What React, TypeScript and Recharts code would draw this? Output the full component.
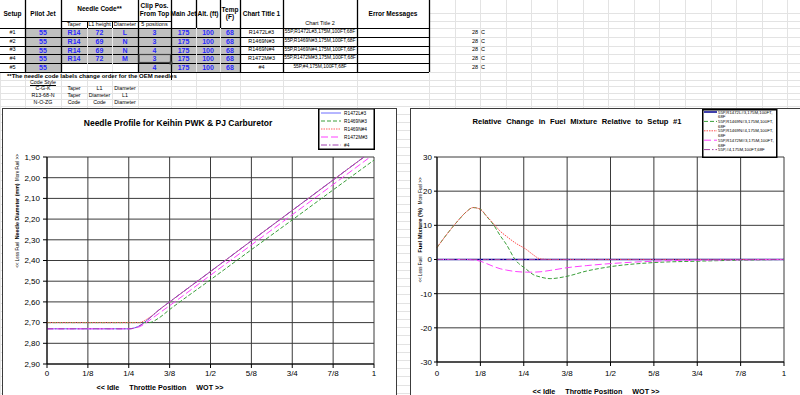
import React from "react";
import { LineChart, Line, XAxis, YAxis, CartesianGrid, Legend } from "recharts";

const FONT = '"Liberation Sans", Arial, Helvetica, sans-serif';

// ---- setup table ----
const setupLabels = ["#1", "#2", "#3", "#4", "#5"];
const pilotJets = ["55", "55", "55", "55", "55"];
const needleTapers = ["R14", "R14", "R14", "R14", ""];
const needleL1 = ["72", "69", "69", "72", ""];
const needleDiameters = ["L", "N", "N", "M", ""];
const clipPositions = ["3", "3", "4", "3", "4"];
const mainJets = ["175", "175", "175", "175", "175"];
const altitudes = ["100", "100", "100", "100", "100"];
const temperaturesF = ["68", "68", "68", "68", "68"];
const chartTitle1 = ["R1472L#3", "R1469N#3", "R1469N#4", "R1472M#3", "#4"];
const chartTitle2 = [
  "55P,R1472L#3,175M,100FT,68F",
  "55P,R1469N#3,175M,100FT,68F",
  "55P,R1469N#4,175M,100FT,68F",
  "55P,R1472M#3,175M,100FT,68F",
  "55P,#4,175M,100FT,68F",
];
const temperaturesC = ["28", "28", "28", "28", "28"];

const codeStyles = ["C-G-K", "R13-68-N", "N-O-ZG"];
const codeStyleFirst = ["Taper", "Taper", "Code"];
const codeStyleSecond = ["L1", "Diameter", "Code"];
const codeStyleThird = ["Diameter", "L1", "Diameter"];

// ---- needle profile chart ----
const throttleTicks = [0, 0.125, 0.25, 0.375, 0.5, 0.625, 0.75, 0.875, 1];
const throttleLabels = ["0", "1/8", "1/4", "3/8", "1/2", "5/8", "3/4", "7/8", "1"];
const diameterTicks = [1.9, 2.0, 2.1, 2.2, 2.3, 2.4, 2.5, 2.6, 2.7, 2.8, 2.9];

const needleThrottle = [0, 0.125, 0.25, 0.28, 0.3125, 0.34, 0.375, 0.5, 0.625, 0.75, 0.875, 1];
const diaR1472L3 = [2.73, 2.73, 2.73, 2.718, 2.68, 2.642, 2.6, 2.453, 2.305, 2.158, 2.011, 1.864];
const diaR1469N3 = [2.7, 2.7, 2.7, 2.7, 2.7, 2.68, 2.637, 2.493, 2.348, 2.204, 2.059, 1.915];
const diaR1469N4 = [2.7, 2.7, 2.7, 2.7, 2.676, 2.642, 2.6, 2.453, 2.305, 2.158, 2.011, 1.864];
const diaR1472M3 = [2.73, 2.73, 2.73, 2.722, 2.69, 2.658, 2.618, 2.471, 2.325, 2.179, 2.033, 1.886];
const diaNo4 = [2.73, 2.73, 2.73, 2.718, 2.68, 2.642, 2.6, 2.453, 2.305, 2.158, 2.011, 1.864];

// ---- fuel mixture chart ----
const mixtureTicks = [30, 20, 10, 0, -10, -20, -30];
const mixThrottle = [
  0, 0.03, 0.06, 0.085, 0.104, 0.125, 0.143, 0.162, 0.182, 0.2, 0.225, 0.258, 0.277, 0.297,
  0.326, 0.375, 0.43, 0.5, 0.625, 0.75, 0.875, 1,
];
const mixR1472L3 = [0, 0, 0, 0, 0, 0, 0, 0, 0, 0, 0, 0, 0, 0, 0, 0, 0, 0, 0, 0, 0, 0];
const mixR1469N3 = [
  3.5, 7.6, 11.3, 14, 15.2, 14.7, 12.6, 10.3, 7.0, 4.4, 0, -2.9, -4.4, -5.1, -5.6, -4.9, -3.4,
  -2.1, -0.9, -0.5, -0.2, 0,
];
const mixR1469N4 = [
  3.5, 7.6, 11.3, 14, 15.2, 14.7, 12.7, 10.6, 8.3, 6.8, 4.9, 2.9, 1.4, 0.2, 0, 0, 0, 0, 0, 0, 0, 0,
];
const mixR1472M3 = [
  0, 0, 0, 0, -0.1, -0.5, -1.2, -2, -2.7, -3.1, -3.5, -3.7, -3.7, -3.6, -3.2, -2.4, -1.8, -1.2,
  -0.5, -0.2, -0.1, 0,
];
const mixNo4 = [0, 0, 0, 0, 0, 0, 0, 0, 0, 0, 0, 0, 0, 0, 0, 0, 0, 0, 0, 0, 0, 0];

const needleSeries = [
  { key: "R1472L#3", values: diaR1472L3, color: "#6c6cff", dash: undefined },
  { key: "R1469N#3", values: diaR1469N3, color: "#3a9f3a", dash: "4 2" },
  { key: "R1469N#4", values: diaR1469N4, color: "#ff6060", dash: "1.5 1" },
  { key: "R1472M#3", values: diaR1472M3, color: "#ff40ff", dash: "7 3" },
  { key: "#4", values: diaNo4, color: "#a040b0", dash: "6 2 1.5 2" },
];

const mixtureSeries = [
  { key: "s1", name: chartTitle2[0], values: mixR1472L3, color: "#000090", dash: undefined, w: 1.5 },
  { key: "s2", name: chartTitle2[1], values: mixR1469N3, color: "#3a9f3a", dash: "4 2", w: 1 },
  { key: "s3", name: chartTitle2[2], values: mixR1469N4, color: "#ff5050", dash: "1.5 1", w: 1 },
  { key: "s4", name: chartTitle2[3], values: mixR1472M3, color: "#ff40ff", dash: "7 3", w: 1 },
  { key: "s5", name: chartTitle2[4], values: mixNo4, color: "#a040a0", dash: "6 2 1.5 2", w: 1 },
];

const needleData = needleThrottle.map((t, i) => {
  const row: Record<string, number> = { t };
  needleSeries.forEach((s) => (row[s.key] = s.values[i]));
  return row;
});

const mixtureData = mixThrottle.map((t, i) => {
  const row: Record<string, number> = { t };
  mixtureSeries.forEach((s) => (row[s.key] = s.values[i]));
  return row;
});

const fmtThrottle = (v: number) => {
  const i = throttleTicks.indexOf(v);
  return i >= 0 ? throttleLabels[i] : "";
};

const nb = (n: number) => "\u00a0".repeat(n);

// table geometry
const colX = [0, 25, 61, 87, 112, 138, 171, 196, 220, 240, 283, 357, 429];
const rowY = [28, 37, 46, 54, 63, 72];

interface CellProps {
  x0: number;
  x1: number;
  y0: number;
  y1: number;
  children?: React.ReactNode;
  size?: number;
  bold?: boolean;
  color?: string;
  align?: "center" | "left" | "right";
  underline?: boolean;
}

const Cell: React.FC<CellProps> = ({ x0, x1, y0, y1, children, size = 6, bold, color = "#000", align = "center", underline }) => (
  <div
    style={{
      position: "absolute",
      left: x0,
      top: y0,
      width: x1 - x0,
      height: y1 - y0,
      display: "flex",
      alignItems: "center",
      justifyContent: align === "center" ? "center" : align === "left" ? "flex-start" : "flex-end",
      fontSize: size,
      fontWeight: bold ? 700 : 400,
      color,
      whiteSpace: "nowrap",
      lineHeight: 1,
      textDecoration: underline ? "underline" : "none",
      overflow: "visible",
    }}
  >
    {children}
  </div>
);

const SheetGrid = () => {
  const cols: number[] = [...colX];
  for (let i = 1; i < 16; i++) cols.push(429 + 25.6 * i);
  const rows: number[] = [13, 21, 28, 37, 46, 54, 63, 72, 80, 86, 93, 99, 106];
  for (let y = 114; y < 395; y += 8.2) rows.push(y);
  return (
    <svg width={800} height={395} style={{ position: "absolute", left: 0, top: 0 }}>
      {cols.map((x, i) => (
        <line key={`c${i}`} x1={Math.round(x) + 0.5} x2={Math.round(x) + 0.5} y1={0} y2={395} stroke="#e3e3e3" />
      ))}
      {rows.map((y, i) => (
        <line key={`r${i}`} x1={0} x2={800} y1={Math.round(y) + 0.5} y2={Math.round(y) + 0.5} stroke="#e3e3e3" />
      ))}
    </svg>
  );
};

const SetupTable = () => {
  const blue = "#2a2aff";
  const valueCols = [
    { values: pilotJets, c: 1 },
    { values: needleTapers, c: 2 },
    { values: needleL1, c: 3 },
    { values: needleDiameters, c: 4 },
    { values: clipPositions, c: 5 },
    { values: mainJets, c: 6 },
    { values: altitudes, c: 7 },
    { values: temperaturesF, c: 8 },
  ];
  const blackV = [25, 61, 138, 171, 240, 283, 357, 429];
  const lightV = [87, 112, 196, 220];
  return (
    <div style={{ position: "absolute", left: 0, top: 0, width: 800, height: 110 }}>
      {/* white table background */}
      <div style={{ position: "absolute", left: 0, top: 0, width: 429, height: 72, background: "#fff" }} />
      {/* grey value cells */}
      {setupLabels.map((_, r) =>
        valueCols.map((col) =>
          col.values[r] === "" ? null : (
            <div
              key={`g${r}-${col.c}`}
              style={{
                position: "absolute",
                left: colX[col.c],
                top: rowY[r],
                width: colX[col.c + 1] - colX[col.c],
                height: rowY[r + 1] - rowY[r],
                background: "#c0c0c0",
              }}
            />
          )
        )
      )}

      {/* header */}
      <Cell x0={0} x1={25} y0={0} y1={28} bold size={6.5}>Setup</Cell>
      <Cell x0={25} x1={61} y0={0} y1={28} bold size={6.5}>Pilot Jet</Cell>
      <Cell x0={61} x1={138} y0={3} y1={16} bold size={6.5}>Needle Code**</Cell>
      <Cell x0={61} x1={87} y0={21} y1={28} size={5.5}>Taper</Cell>
      <Cell x0={87} x1={112} y0={21} y1={28} size={5.5}>L1 height</Cell>
      <Cell x0={112} x1={138} y0={21} y1={28} size={5.5}>Diameter</Cell>
      <Cell x0={138} x1={171} y0={3} y1={10} bold size={6.5}>Clip Pos.</Cell>
      <Cell x0={138} x1={171} y0={10} y1={18} bold size={6.5}>From Top</Cell>
      <Cell x0={138} x1={171} y0={21} y1={28} size={5.5}>5 positions</Cell>
      <Cell x0={171} x1={196} y0={0} y1={28} bold size={6.5}>Main Jet</Cell>
      <Cell x0={196} x1={220} y0={0} y1={28} bold size={6.5}>Alt. (ft)</Cell>
      <Cell x0={220} x1={240} y0={6} y1={14} bold size={6.5}>Temp</Cell>
      <Cell x0={220} x1={240} y0={13} y1={21} bold size={6.5}>(F)</Cell>
      <Cell x0={240} x1={283} y0={0} y1={28} bold size={6.5}>Chart Title 1</Cell>
      <Cell x0={283} x1={357} y0={20} y1={28} size={5.5}>Chart Title 2</Cell>
      <Cell x0={357} x1={429} y0={0} y1={28} bold size={6.5}>Error Messages</Cell>

      {/* rows */}
      {setupLabels.map((label, r) => (
        <React.Fragment key={`row${r}`}>
          <Cell x0={0} x1={25} y0={rowY[r]} y1={rowY[r + 1]} size={5.5}>{label}</Cell>
          {valueCols.map((col) => (
            <Cell key={`v${col.c}`} x0={colX[col.c]} x1={colX[col.c + 1]} y0={rowY[r]} y1={rowY[r + 1]} size={7} bold color={blue}>
              {col.values[r]}
            </Cell>
          ))}
          <Cell x0={240} x1={283} y0={rowY[r]} y1={rowY[r + 1]} size={5.5}>{chartTitle1[r]}</Cell>
          <Cell x0={283} x1={357} y0={rowY[r]} y1={rowY[r + 1]} size={4.9}>{chartTitle2[r]}</Cell>
          <Cell x0={455} x1={478} y0={rowY[r]} y1={rowY[r + 1]} size={5.5} align="right">{temperaturesC[r]}</Cell>
          <Cell x0={481} x1={500} y0={rowY[r]} y1={rowY[r + 1]} size={5.5} align="left">C</Cell>
        </React.Fragment>
      ))}

      <Cell x0={7} x1={171} y0={72} y1={80} bold size={6} align="left">
        **The needle code labels change order for the OEM needles
      </Cell>
      <Cell x0={25} x1={61} y0={80} y1={86} size={5.3} underline>Code Style</Cell>
      {codeStyles.map((c, i) => (
        <React.Fragment key={`cs${i}`}>
          <Cell x0={25} x1={61} y0={86 + i * 6.8} y1={92 + i * 6.8} size={5.3}>{c}</Cell>
          <Cell x0={61} x1={87} y0={86 + i * 6.8} y1={92 + i * 6.8} size={5.3}>{codeStyleFirst[i]}</Cell>
          <Cell x0={87} x1={112} y0={86 + i * 6.8} y1={92 + i * 6.8} size={5.3}>{codeStyleSecond[i]}</Cell>
          <Cell x0={112} x1={138} y0={86 + i * 6.8} y1={92 + i * 6.8} size={5.3}>{codeStyleThird[i]}</Cell>
        </React.Fragment>
      ))}

      {/* borders */}
      <svg width={440} height={82} style={{ position: "absolute", left: 0, top: 0 }}>
        {rowY.map((y) => (
          <line key={`h${y}`} x1={0} x2={429} y1={y + 0.5} y2={y + 0.5} stroke="#000" />
        ))}
        <line x1={61} x2={171} y1={21.5} y2={21.5} stroke="#000" />
        {blackV.map((x) => (
          <line key={`bv${x}`} x1={x + 0.5} x2={x + 0.5} y1={0} y2={72} stroke="#000" strokeWidth={1.3} />
        ))}
        {[196, 220].map((x) => (
          <line key={`hv${x}`} x1={x + 0.5} x2={x + 0.5} y1={0} y2={28} stroke="#000" strokeWidth={1.3} />
        ))}
        {[87, 112].map((x) => (
          <line key={`sv${x}`} x1={x + 0.5} x2={x + 0.5} y1={21} y2={28} stroke="#000" />
        ))}
        {lightV.map((x) => (
          <line key={`lv${x}`} x1={x + 0.5} x2={x + 0.5} y1={28} y2={72} stroke="#e8e8e8" />
        ))}
        <line x1={171.5} x2={171.5} y1={72} y2={80} stroke="#000" />
        {/* selected cell */}
        <rect x={139} y={54.5} width={31.5} height={8} fill="none" stroke="#444" strokeWidth={1.2} />
        <rect x={169.5} y={61.5} width={3} height={3} fill="#444" />
      </svg>
    </div>
  );
};

const NeedleLegend = () => (
  <svg width={57} height={42} style={{ display: "block" }}>
    <rect x={0.75} y={0.75} width={55.5} height={40.5} fill="#fff" stroke="#000" strokeWidth={1.5} />
    {needleSeries.map((s, i) => (
      <g key={s.key}>
        <line x1={3} x2={23} y1={5 + i * 8} y2={5 + i * 8} stroke={s.color} strokeDasharray={s.dash} />
        <text x={26} y={5 + i * 8} dy="0.35em" fontSize={4.8} fontFamily={FONT} fill="#000">
          {s.key}
        </text>
      </g>
    ))}
  </svg>
);

const MixtureLegend = () => (
  <svg width={76} height={49} style={{ display: "block" }}>
    <rect x={0.75} y={0.75} width={74} height={47.5} fill="#fff" stroke="#000" strokeWidth={1.5} />
    {mixtureSeries.map((s, i) => {
      const y = 3 + i * 9.4;
      const last = i === mixtureSeries.length - 1;
      const first = last ? s.name : s.name.slice(0, s.name.length - 3);
      return (
        <g key={s.key}>
          <line x1={2} x2={15} y1={y} y2={y} stroke={s.color} strokeWidth={s.w} strokeDasharray={s.dash} />
          <text x={16} y={y} dy="0.35em" fontSize={4.3} fontFamily={FONT} fill="#000">
            {first}
          </text>
          {!last && (
            <text x={16} y={y + 4.8} dy="0.35em" fontSize={4.3} fontFamily={FONT} fill="#000">
              68F
            </text>
          )}
        </g>
      );
    })}
  </svg>
);

const tickStyle = { fontSize: 8, fill: "#000", fontFamily: FONT };

const NeedleChart = () => (
  <LineChart width={395} height={287} data={needleData} margin={{ top: 49, right: 23, left: 0, bottom: 0 }}>
    <CartesianGrid stroke="#3a3a3a" />
    <XAxis
      dataKey="t"
      type="number"
      domain={[0, 1]}
      ticks={throttleTicks}
      interval={0}
      tickFormatter={fmtThrottle}
      height={31}
      stroke="#000"
      tick={tickStyle}
      tickSize={4}
      tickMargin={2}
      label={() => (
        <text x={158} y={281.5} textAnchor="middle" fontSize={7.2} fontWeight={700} fontFamily={FONT} fill="#000">
          {`<< Idle${nb(5)}Throttle Position${nb(5)}WOT >>`}
        </text>
      )}
    />
    <YAxis
      type="number"
      reversed
      domain={[1.9, 2.9]}
      allowDataOverflow
      ticks={diameterTicks}
      interval={0}
      width={45}
      stroke="#000"
      tick={tickStyle}
      tickSize={4}
      tickMargin={3}
      tickFormatter={(v: number) => v.toFixed(2).replace(".", ",")}
      label={() => (
        <text transform="translate(11,103) rotate(-90)" textAnchor="middle" dy="0.35em" fontFamily={FONT} fill="#000">
          <tspan fontSize={4.5}>{`<< Less Fuel${nb(2)}`}</tspan>
          <tspan fontSize={5.3} fontWeight={700}>Needle Diameter (mm)</tspan>
          <tspan fontSize={4.5}>{`${nb(2)}More Fuel >>`}</tspan>
        </text>
      )}
    />
    {needleSeries.map((s) => (
      <Line
        key={s.key}
        type="monotone"
        dataKey={s.key}
        stroke={s.color}
        strokeWidth={1}
        strokeDasharray={s.dash}
        dot={false}
        activeDot={false}
        isAnimationActive={false}
      />
    ))}
    <Legend
      layout="vertical"
      align="center"
      verticalAlign="middle"
      wrapperStyle={{ left: 316, top: 0, width: 57, height: 42 }}
      content={() => <NeedleLegend />}
    />
  </LineChart>
);

const MixtureChart = () => (
  <LineChart width={390} height={287} data={mixtureData} margin={{ top: 49, right: 16, left: 0, bottom: 0 }}>
    <CartesianGrid stroke="#3a3a3a" />
    <XAxis
      dataKey="t"
      type="number"
      domain={[0, 1]}
      ticks={throttleTicks}
      interval={0}
      tickFormatter={fmtThrottle}
      height={33}
      stroke="#000"
      tick={tickStyle}
      tickSize={4}
      tickMargin={4}
      label={() => (
        <text x={186} y={285.5} textAnchor="middle" fontSize={7.2} fontWeight={700} fontFamily={FONT} fill="#000">
          {`<< Idle${nb(5)}Throttle Position${nb(5)}WOT >>`}
        </text>
      )}
    />
    <YAxis
      type="number"
      domain={[-30, 30]}
      ticks={mixtureTicks}
      interval={0}
      width={27}
      stroke="#000"
      tick={tickStyle}
      tickSize={3}
      tickMargin={2}
      label={() => (
        <text transform="translate(6,122) rotate(-90)" textAnchor="middle" dy="0.35em" fontFamily={FONT} fill="#000">
          <tspan fontSize={4.5}>{`<< Less Fuel${nb(3)}`}</tspan>
          <tspan fontSize={5.8} fontWeight={700}>Fuel Mixture (%)</tspan>
          <tspan fontSize={4.5}>{`${nb(3)}More Fuel >>`}</tspan>
        </text>
      )}
    />
    {mixtureSeries.map((s) => (
      <Line
        key={s.key}
        type="monotone"
        dataKey={s.key}
        name={s.name}
        stroke={s.color}
        strokeWidth={s.w}
        strokeDasharray={s.dash}
        dot={false}
        activeDot={false}
        isAnimationActive={false}
      />
    ))}
    <Legend
      layout="vertical"
      align="center"
      verticalAlign="middle"
      wrapperStyle={{ left: 292, top: 1, width: 76, height: 49 }}
      content={() => <MixtureLegend />}
    />
  </LineChart>
);

const boxTitle: React.CSSProperties = {
  position: "absolute",
  fontWeight: 700,
  textAlign: "center",
  whiteSpace: "nowrap",
  color: "#000",
};

export default function App() {
  return (
    <div
      style={{
        position: "fixed",
        left: 0,
        top: 0,
        width: 800,
        height: 395,
        overflow: "hidden",
        background: "#fff",
        fontFamily: FONT,
      }}
    >
      <SheetGrid />
      <SetupTable />

      <div style={{ position: "absolute", left: 2, top: 108, width: 395, height: 287, background: "#fff" }}>
        <NeedleChart />
        <div style={{ ...boxTitle, left: 0, top: 9, width: 352, height: 12, lineHeight: "12px", fontSize: 8.5 }}>
          Needle Profile for Keihin PWK &amp; PJ Carburetor
        </div>
        <div
          style={{
            position: "absolute",
            left: 0,
            top: 0,
            width: 395,
            height: 300,
            border: "1px solid #3c3c3c",
            boxSizing: "border-box",
            pointerEvents: "none",
          }}
        />
      </div>

      <div style={{ position: "absolute", left: 410, top: 108, width: 390, height: 287, background: "#fff" }}>
        <MixtureChart />
        <div
          style={{
            ...boxTitle,
            left: 0,
            top: 8,
            width: 334,
            height: 12,
            lineHeight: "12px",
            fontSize: 7.6,
            wordSpacing: 2.5,
          }}
        >
          Relative Change in Fuel Mixture Relative to Setup #1
        </div>
        <div
          style={{
            position: "absolute",
            left: 0,
            top: 0,
            width: 400,
            height: 300,
            border: "1px solid #3c3c3c",
            boxSizing: "border-box",
            pointerEvents: "none",
          }}
        />
      </div>
    </div>
  );
}
